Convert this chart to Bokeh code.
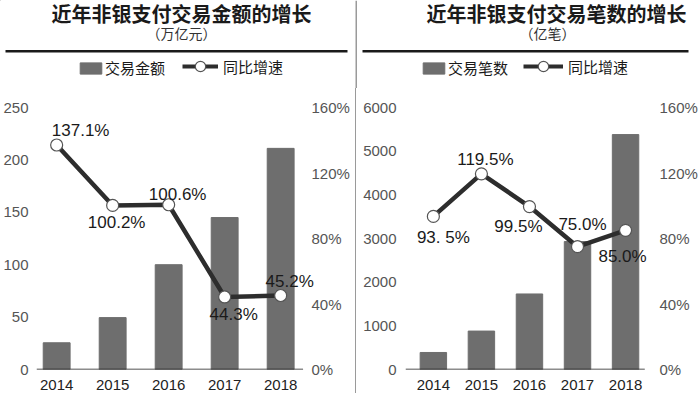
from bokeh.plotting import figure
from bokeh.models import (Range1d, LinearAxis, FixedTicker, Legend, LegendItem,
                          ColumnDataSource, Spacer)
from bokeh.layouts import row, column
from bokeh.embed import file_html
from bokeh.resources import INLINE
from bokeh.core.properties import value

# ---------------- data ----------------
years = ["2014", "2015", "2016", "2017", "2018"]

amount = [25.5, 49.5, 100.0, 145.0, 211.0]          # 交易金额（万亿元）
amount_growth = [137.1, 100.2, 100.6, 44.3, 45.2]   # 同比增速 %
amount_labels = ["137.1%", "100.2%", "100.6%", "44.3%", "45.2%"]

count = [390, 880, 1730, 2930, 5380]                # 交易笔数（亿笔）
count_growth = [93.5, 119.5, 99.5, 75.0, 85.0]      # 同比增速 %
count_labels = ["93. 5%", "119.5%", "99.5%", "75.0%", "85.0%"]

amount_ticks = [0, 50, 100, 150, 200, 250]
count_ticks = [0, 1000, 2000, 3000, 4000, 5000, 6000]
pct_ticks = [0, 40, 80, 120, 160]

titles = ["近年非银支付交易金额的增长", "近年非银支付交易笔数的增长"]
subtitles = ["（万亿元）", "（亿笔）"]
bar_names = ["交易金额", "交易笔数"]
line_name = "同比增速"

# ---------------- style / layout ----------------
W = 700
HH = 88            # header height
HC = 305           # chart height
CJK = "Noto Sans CJK SC"
NUM = "Liberation Sans"
BAR = "#6e6e6e"
LINE = "#2d2d2d"
SEP = "#9a9a9a"

# label offsets (pixels) for the growth-rate labels
amount_dx = [24, 4, 9, 9, 9]
amount_dy = [-14, 17, -10, 18, -14]
count_dx = [10, 4, -11, 5, -3]
count_dy = [21, -14, 20, -22, 26]

# ---------------- header (titles, rules, legends) ----------------
hd = figure(width=W, height=HH, output_backend="svg", toolbar_location=None,
            x_range=Range1d(0, W), y_range=Range1d(HH, 0),
            x_axis_location=None, y_axis_location=None,
            min_border=0, min_border_left=0, min_border_right=0,
            min_border_top=0, min_border_bottom=0)
hd.outline_line_color = None
hd.xgrid.visible = False
hd.ygrid.visible = False

hd.text(x=[181, 556], y=[12.5, 12.5], text=titles, text_align="center",
        text_baseline="middle", text_font=value(CJK), text_font_style="bold",
        text_font_size="20px", text_color="#1a1a1a")
hd.text(x=[181, 547], y=[32, 32], text=subtitles, text_align="center",
        text_baseline="middle", text_font=value(CJK), text_font_size="14px",
        text_color="#333333")
# rules under titles
hd.quad(left=[5, 362], right=[347, 688], top=[49.5, 49.5], bottom=[52, 52],
        fill_color="#1a1a1a", line_color=None)
# vertical separator
hd.quad(left=[355], right=[356.5], top=[0], bottom=[HH], fill_color=SEP, line_color=None)

# legend proxies (one point far outside the header's view, used only for swatches)
leg_bar = hd.vbar(x=[-100], top=[-100], width=1, color=BAR)
leg_ln = hd.line(x=[-100, -90], y=[-100, -100], line_width=4, line_color=LINE)
leg_mk = hd.scatter(x=[-100], y=[-100], size=12, marker="circle", fill_color="white",
                    line_color="#555555", line_width=1.2)


def add_legends(x_bar, x_line, line_w, name):
    l1 = Legend(items=[LegendItem(label=name, renderers=[leg_bar])],
                location=(x_bar, 10), orientation="horizontal",
                glyph_width=27, glyph_height=14, label_height=14, label_standoff=1,
                label_text_font=CJK, label_text_font_size="15px",
                label_text_color="#1a1a1a", padding=0, margin=0,
                border_line_color=None, background_fill_alpha=0)
    l2 = Legend(items=[LegendItem(label=line_name, renderers=[leg_ln, leg_mk])],
                location=(x_line, 9), orientation="horizontal",
                glyph_width=line_w, glyph_height=26, label_height=26, label_standoff=5,
                label_text_font=CJK, label_text_font_size="15px",
                label_text_color="#1a1a1a", padding=0, margin=0,
                border_line_color=None, background_fill_alpha=0)
    hd.add_layout(l1)
    hd.add_layout(l2)


add_legends(77, 182, 36, bar_names[0])
add_legends(420, 523, 40, bar_names[1])


# ---------------- charts ----------------
def make_chart(width, borders, xr, axis_end, bar_width, values, ymax, yticks,
               growth, labels, dx, dy, left_standoff, right_standoff):
    bl, br, bt, bb = borders
    p = figure(width=width, height=HC, output_backend="svg", toolbar_location=None,
               x_range=Range1d(*xr), y_range=Range1d(0, ymax),
               min_border_left=bl, min_border_right=br,
               min_border_top=bt, min_border_bottom=bb)
    p.outline_line_color = None
    p.xgrid.visible = False
    p.ygrid.visible = False
    p.extra_y_ranges = {"pct": Range1d(0, 160)}

    idx = list(range(len(years)))
    p.vbar(x=idx, top=values, width=bar_width, color=BAR)

    # x axis (baseline drawn up to axis_end)
    xa = p.xaxis[0]
    xa.ticker = FixedTicker(ticks=idx)
    xa.major_label_overrides = {i: y for i, y in enumerate(years)}
    xa.axis_line_color = None
    xa.major_tick_line_color = None
    xa.minor_tick_line_color = None
    xa.major_label_text_font = NUM
    xa.major_label_text_font_size = "15px"
    xa.major_label_text_color = "#222222"
    xa.major_label_standoff = 4
    p.segment(x0=[xr[0]], x1=[axis_end], y0=[0], y1=[0], line_color="#1a1a1a",
              line_width=1.5)

    # left axis
    ya = p.yaxis[0]
    ya.ticker = FixedTicker(ticks=yticks)
    ya.axis_line_color = None
    ya.major_tick_line_color = None
    ya.minor_tick_line_color = None
    ya.major_label_text_font = NUM
    ya.major_label_text_font_size = "15px"
    ya.major_label_text_color = "#555555"
    ya.major_label_standoff = left_standoff

    # right axis
    ra = LinearAxis(y_range_name="pct", ticker=FixedTicker(ticks=pct_ticks),
                    major_label_overrides={t: f"{t}%" for t in pct_ticks})
    ra.axis_line_color = None
    ra.major_tick_line_color = None
    ra.minor_tick_line_color = None
    ra.major_label_text_font = NUM
    ra.major_label_text_font_size = "15px"
    ra.major_label_text_color = "#555555"
    ra.major_label_standoff = right_standoff
    p.add_layout(ra, "right")

    # growth line
    p.line(idx, growth, y_range_name="pct", line_width=4.5, line_color=LINE)
    p.scatter(idx, growth, y_range_name="pct", size=12, marker="circle",
              fill_color="white", line_color="#555555", line_width=1.2)

    src = ColumnDataSource(dict(x=idx, y=growth, t=labels, dx=dx, dy=dy))
    p.text(x="x", y="y", text="t", x_offset="dx", y_offset="dy", source=src,
           y_range_name="pct", text_align="center", text_baseline="middle",
           text_font=value(NUM), text_font_size="17px", text_color="#1a1a1a")
    return p


p1 = make_chart(355, (27, 39, 19, 23), (-0.36, 4.64), 4.4, 0.48, amount, 250,
                amount_ticks, amount_growth, amount_labels, amount_dx, amount_dy, 2, -11)
p2 = make_chart(344, (49, 40, 17, 24), (-0.58, 4.54), 4.4, 0.55, count, 6000,
                count_ticks, count_growth, count_labels, count_dx, count_dy, 3, 2)

sep = Spacer(width=1, height=HC, styles={"background-color": SEP})

layout = column(hd, row(p1, sep, p2, spacing=0), spacing=0)
open("out.html", "w").write(file_html(layout, INLINE))
